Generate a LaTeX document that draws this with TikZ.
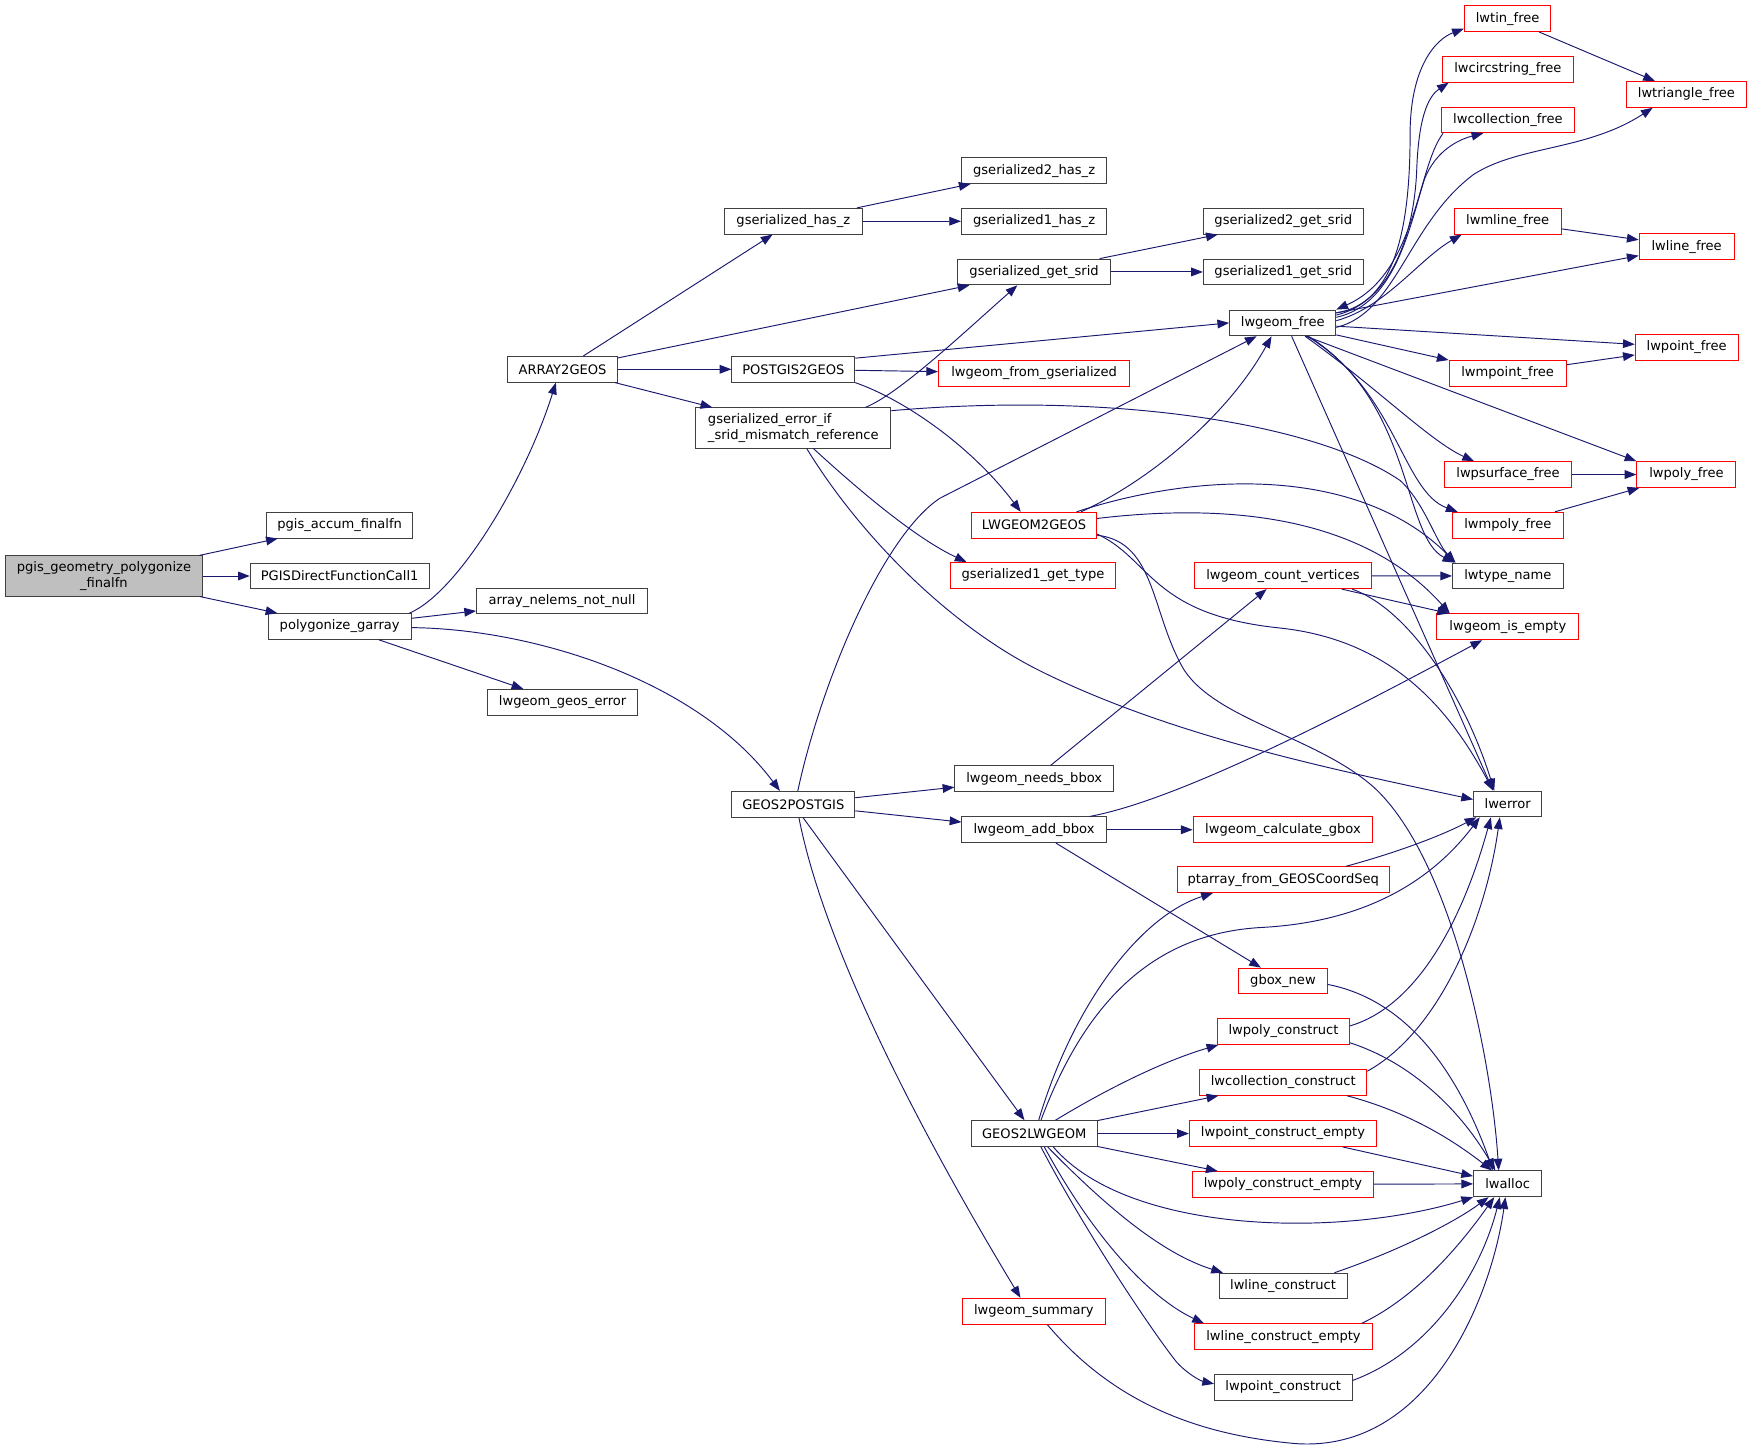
\documentclass[tikz,border=0pt]{standalone}
\usepackage{fontspec}
\setmainfont{DejaVu Sans}
\usetikzlibrary{arrows.meta}
\definecolor{edgeblue}{HTML}{191970}
\definecolor{boxgray}{HTML}{404040}
\definecolor{rootfill}{HTML}{BFBFBF}
\definecolor{boxred}{HTML}{FF0000}
\tikzset{
  box/.style={draw=boxgray, line width=0.9pt, fill=white, inner sep=0pt, minimum height=23pt, font=\fontsize{11.7}{14}\selectfont},
  rbox/.style={box, draw=boxred},
  edge/.style={draw=edgeblue, line width=0.85pt, -{Triangle[length=10.5pt,width=7.8pt]}},
}
\begin{document}
\begin{tikzpicture}[x=1pt,y=-1pt]
\fill[white] (0,0) rectangle (1568,1295);
\useasboundingbox (0,0) rectangle (1568,1295);
% ---------- nodes ----------
\node[box, fill=rootfill, minimum width=176pt, minimum height=36pt, align=center] (root) at (93,515.5) {pgis\_geometry\_polygonize\\\_finalfn};
\node[box, minimum width=131pt] (accum) at (304,470) {pgis\_accum\_finalfn};
\node[box, minimum width=160pt] (pgisdirect) at (304,515.5) {PGISDirectFunctionCall1};
\node[box, minimum width=128pt] (polyg) at (304,560.7) {polygonize\_garray};
\node[box, minimum width=153pt] (nelems) at (503,538) {array\_nelems\_not\_null};
\node[box, minimum width=134.5pt] (geoserr) at (503.5,628.5) {lwgeom\_geos\_error};
\node[box, minimum width=98pt] (a2g) at (503.5,330.5) {ARRAY2GEOS};
\node[box, minimum width=123pt] (hasz) at (710,198) {gserialized\_has\_z};
\node[box, minimum width=130pt] (hasz2) at (925.5,152.7) {gserialized2\_has\_z};
\node[box, minimum width=130pt] (hasz1) at (925.5,198) {gserialized1\_has\_z};
\node[box, minimum width=137pt] (gsrid) at (925.5,243.4) {gserialized\_get\_srid};
\node[box, minimum width=143pt] (gsrid2) at (1148.5,198) {gserialized2\_get\_srid};
\node[box, minimum width=143pt] (gsrid1) at (1148.5,243.4) {gserialized1\_get\_srid};
\node[box, minimum width=110pt] (p2g) at (710,330.5) {POSTGIS2GEOS};
\node[rbox, minimum width=171pt] (fromgs) at (925.5,334) {lwgeom\_from\_gserialized};
\node[box, minimum width=174.5pt, minimum height=36pt, align=left] (gserr) at (710,383) {gserialized\_error\_if\\\_srid\_mismatch\_reference};
\node[box, minimum width=95pt] (lwfree) at (1148,289) {lwgeom\_free};
\node[rbox, minimum width=112pt] (lw2g) at (925.5,470) {LWGEOM2GEOS};
\node[rbox, minimum width=148pt] (gs1type) at (924.5,515) {gserialized1\_get\_type};
\node[rbox, minimum width=77.5pt] (lwtin) at (1349.3,16.7) {lwtin\_free};
\node[rbox, minimum width=117pt] (lwcirc) at (1349.5,62) {lwcircstring\_free};
\node[rbox, minimum width=119pt] (lwcoll) at (1349.5,107.3) {lwcollection\_free};
\node[rbox, minimum width=107.5pt] (lwtri) at (1509.3,84.5) {lwtriangle\_free};
\node[rbox, minimum width=95.5pt] (lwmline) at (1349.3,198) {lwmline\_free};
\node[rbox, minimum width=85pt] (lwline) at (1509.5,220.7) {lwline\_free};
\node[rbox, minimum width=92pt] (lwpoint) at (1509.5,311) {lwpoint\_free};
\node[rbox, minimum width=104.7pt] (lwmpoint) at (1349.3,334) {lwmpoint\_free};
\node[rbox, minimum width=113.8pt] (lwpsurf) at (1349.6,424.7) {lwpsurface\_free};
\node[rbox, minimum width=88.7pt] (lwpoly) at (1509.3,424.7) {lwpoly\_free};
\node[rbox, minimum width=99pt] (lwmpoly) at (1349.5,470) {lwmpoly\_free};
\node[box, minimum width=99pt] (lwtype) at (1349.5,515.5) {lwtype\_name};
\node[rbox, minimum width=158pt] (cv) at (1148.2,515.3) {lwgeom\_count\_vertices};
\node[rbox, minimum width=127pt] (isempty) at (1349.5,561) {lwgeom\_is\_empty};
\node[box, minimum width=110pt] (g2p) at (710,719.8) {GEOS2POSTGIS};
\node[box, minimum width=142pt] (needs) at (925.6,697) {lwgeom\_needs\_bbox};
\node[box, minimum width=129pt] (addbb) at (925.4,742.6) {lwgeom\_add\_bbox};
\node[rbox, minimum width=160.7pt] (calc) at (1148.2,742.6) {lwgeom\_calculate\_gbox};
\node[box, minimum width=61pt] (lwerror) at (1349.3,719.5) {lwerror};
\node[rbox, minimum width=190pt] (ptarr) at (1148.5,787.3) {ptarray\_from\_GEOSCoordSeq};
\node[rbox, minimum width=79pt] (gbox) at (1148.2,878) {gbox\_new};
\node[rbox, minimum width=117.8pt] (lpc) at (1148.7,923.2) {lwpoly\_construct};
\node[rbox, minimum width=149.5pt] (lcc) at (1148.5,968.7) {lwcollection\_construct};
\node[box, minimum width=112.4pt] (g2l) at (925.6,1014.5) {GEOS2LWGEOM};
\node[rbox, minimum width=167.4pt] (lpce) at (1148.2,1014.5) {lwpoint\_construct\_empty};
\node[rbox, minimum width=162.5pt] (lpoce) at (1148.2,1060) {lwpoly\_construct\_empty};
\node[box, minimum width=61pt] (lwalloc) at (1349.3,1059.5) {lwalloc};
\node[box, minimum width=114.6pt] (llc) at (1148.3,1151) {lwline\_construct};
\node[rbox, minimum width=159.5pt] (llce) at (1148.7,1196.3) {lwline\_construct\_empty};
\node[rbox, minimum width=128pt] (lsum) at (925.3,1173.5) {lwgeom\_summary};
\node[box, minimum width=123pt] (lpt) at (1148.5,1241.5) {lwpoint\_construct};
% ---------- edges ----------
\draw[edge] (root) -- (accum);
\draw[edge] (root) -- (pgisdirect);
\draw[edge] (root) -- (polyg);
\draw[edge] ([xshift=-2pt]polyg.north east) .. controls (410,530) and (470,430) .. ([xshift=-6pt]a2g.south);
\draw[edge] (polyg) -- (nelems);
\draw[edge] (polyg) -- (geoserr);
\draw[edge] ([yshift=-1pt]polyg.east) .. controls (480,563) and (625,610) .. ([xshift=-12pt]g2p.north);
\draw[edge] (a2g) -- (hasz);
\draw[edge] (a2g) -- (gsrid);
\draw[edge] (a2g) -- (p2g);
\draw[edge] (a2g) -- (gserr);
\draw[edge] (hasz) -- (hasz2);
\draw[edge] (hasz) -- (hasz1);
\draw[edge] (gsrid) -- (gsrid2);
\draw[edge] (gsrid) -- (gsrid1);
\draw[edge] ([yshift=-2pt]p2g.north east) -- (lwfree.west);
\draw[edge] (p2g) -- (fromgs);
\draw[edge] (p2g.south east) .. controls (810,358) and (870,400) .. ([xshift=-12pt]lw2g.north);
\draw[edge] ([xshift=-23pt]gserr.north east) .. controls (805,352) and (860,300) .. ([xshift=-15pt]gsrid.south);
\draw[edge] ([yshift=-3pt]gserr.north east) .. controls (1000,350) and (1180,380) .. (1253,430) .. controls (1275,450) and (1285,485) .. ([xshift=3pt]lwtype.north west);
\draw[edge] ([xshift=18pt]gserr.south) .. controls (770,440) and (820,482) .. ([xshift=15pt]gs1type.north west);
\draw[edge] ([xshift=12pt]gserr.south) .. controls (770,480) and (850,560) .. (930,600) .. controls (1050,660) and (1200,690) .. ([yshift=4pt]lwerror.west);
\draw[edge] ([xshift=4pt]g2p.north) .. controls (735,610) and (790,480) .. (841,446) -- (lwfree);
\draw[edge] (g2p) -- (needs);
\draw[edge] (g2p) -- (addbb);
\draw[edge] (g2p) -- (g2l);
\draw[edge] ([xshift=5pt]g2p.south) .. controls (740,860) and (840,1040) .. ([xshift=-12pt]lsum.north);
\draw[edge] ([xshift=42pt]lw2g.north) .. controls (1030,430) and (1100,370) .. ([xshift=-10pt]lwfree.south);
\draw[edge] ([xshift=38pt]lw2g.north) .. controls (1080,420) and (1220,420) .. ([xshift=3pt]lwtype.north west);
\draw[edge] ([yshift=6pt]lw2g.east) .. controls (1100,450) and (1220,462) .. ([xshift=12pt]isempty.north west);
\draw[edge] ([yshift=-8pt]lw2g.east) .. controls (1030,500) and (1030,550) .. (1145,562) .. controls (1250,573) and (1300,640) .. ([xshift=-13pt]lwerror.north);
\draw[edge] ([yshift=-9pt]lw2g.east) .. controls (1035,485) and (1030,550) .. (1060,600) .. controls (1090,645) and (1180,660) .. (1230,705) .. controls (1300,770) and (1335,950) .. ([xshift=-8pt]lwalloc.north);
\draw[edge] ([yshift=9pt]lwfree.east) .. controls (1250,272) and (1262,200) .. (1262,120) .. controls (1262,60) and (1285,35) .. ([yshift=-9pt]lwtin.west);
\draw[edge] ([yshift=7pt]lwfree.east) .. controls (1245,270) and (1266,210) .. (1268,150) .. controls (1270,100) and (1280,85) .. ([xshift=6pt]lwcirc.south west);
\draw[edge] ([yshift=5pt]lwfree.east) .. controls (1250,272) and (1262,200) .. (1275,160) .. controls (1285,135) and (1305,125) .. ([xshift=-22pt]lwcoll.south);
\draw[edge] ([xshift=2pt]lwcoll.south west) .. controls (1268,150) and (1268,245) .. (lwfree.north east);
\draw[edge] ([yshift=-4pt]lwfree.east) .. controls (1250,280) and (1260,200) .. (1319,156) .. controls (1360,130) and (1420,135) .. ([xshift=24pt]lwtri.south west);
\draw[edge] (lwtin) -- (lwtri);
\draw[edge] ([yshift=2pt]lwfree.east) .. controls (1240,275) and (1270,232) .. ([xshift=7pt]lwmline.south west);
\draw[edge] (lwmline) -- (lwline);
\draw[edge] (lwfree) -- (lwline);
\draw[edge] (lwfree) -- (lwpoint);
\draw[edge] (lwfree) -- (lwmpoint);
\draw[edge] (lwmpoint) -- (lwpoint);
\draw[edge] ([xshift=21pt]lwfree.south) -- (lwpoly.north west);
\draw[edge] ([xshift=20pt]lwfree.south) .. controls (1230,345) and (1280,395) .. ([xshift=27pt]lwpsurf.north west);
\draw[edge] (lwpsurf) -- (lwpoly);
\draw[edge] ([xshift=22pt]lwfree.south) .. controls (1250,350) and (1255,440) .. ([xshift=5pt]lwmpoly.north west);
\draw[edge] (lwmpoly) -- (lwpoly);
\draw[edge] ([xshift=23pt]lwfree.south) .. controls (1265,360) and (1255,480) .. ([xshift=2pt]lwtype.north west);
\draw[edge] ([xshift=8pt]lwfree.south) -- ([xshift=-13pt]lwerror.north);
\draw[edge] (cv) -- (lwtype);
\draw[edge] (cv) -- (isempty);
\draw[edge] ([xshift=62pt]cv.south) .. controls (1260,545) and (1310,620) .. ([xshift=-12pt]lwerror.north);
\draw[edge] (needs) -- (cv);
\draw[edge] ([xshift=50pt]addbb.north) .. controls (1060,715) and (1220,630) .. ([xshift=-23pt]isempty.south);
\draw[edge] (addbb) -- (calc);
\draw[edge] (addbb) -- (gbox);
\draw[edge] ([xshift=56pt]ptarr.north) .. controls (1250,763) and (1290,748) .. ([xshift=3pt]lwerror.south west);
\draw[edge] ([yshift=-3pt]gbox.east) .. controls (1260,895) and (1305,960) .. ([xshift=-13pt]lwalloc.north);
\draw[edge] ([yshift=5pt]lpc.east) .. controls (1270,900) and (1310,820) .. ([xshift=-15pt]lwerror.south);
\draw[edge] ([yshift=-10pt]lpc.east) .. controls (1260,950) and (1305,990) .. ([xshift=-11pt]lwalloc.north);
\draw[edge] ([yshift=10pt]lcc.east) .. controls (1290,922) and (1330,820) .. ([xshift=-7pt]lwerror.south);
\draw[edge] ([xshift=57pt]lcc.south) .. controls (1260,995) and (1300,1020) .. ([xshift=-14pt]lwalloc.north);
\draw[edge] (lpce) -- (lwalloc);
\draw[edge] (lpoce) -- (lwalloc);
\draw[edge] ([xshift=46pt]llc.north) .. controls (1250,1120) and (1300,1095) .. ([xshift=-17pt]lwalloc.south);
\draw[edge] ([xshift=70pt]llce.north) .. controls (1270,1160) and (1310,1110) .. ([xshift=-12pt]lwalloc.south);
\draw[edge] ([yshift=6pt]lpt.east) .. controls (1280,1210) and (1325,1140) .. ([xshift=-7pt]lwalloc.south);
\draw[edge] ([xshift=12pt]lsum.south) .. controls (1000,1260) and (1080,1285) .. (1160,1292) .. controls (1280,1300) and (1335,1160) .. ([xshift=-2pt]lwalloc.south);
\draw[edge] ([xshift=4pt]g2l.north) .. controls (960,900) and (1020,820) .. ([xshift=-63pt]ptarr.south);
\draw[edge] ([xshift=6pt]g2l.north) .. controls (970,900) and (1030,835) .. (1130,830) .. controls (1220,825) and (1280,790) .. ([xshift=6pt]lwerror.south west);
\draw[edge] ([xshift=19pt]g2l.north) .. controls (990,975) and (1040,950) .. ([xshift=1pt]lpc.south west);
\draw[edge] (g2l) -- (lcc);
\draw[edge] (g2l) -- (lpce);
\draw[edge] (g2l) -- (lpoce);
\draw[edge] ([xshift=17pt]g2l.south) .. controls (1010,1105) and (1200,1108) .. (lwalloc.south west);
\draw[edge] ([xshift=12pt]g2l.south) .. controls (990,1080) and (1040,1122) .. ([xshift=4pt]llc.north west);
\draw[edge] ([xshift=9pt]g2l.south) .. controls (980,1110) and (1030,1162) .. ([xshift=9pt]llce.north west);
\draw[edge] ([xshift=6pt]g2l.south) .. controls (970,1100) and (1030,1190) .. (1053,1219) .. controls (1063,1230) and (1075,1236) .. ([yshift=3pt]lpt.west);
\end{tikzpicture}
\end{document}
